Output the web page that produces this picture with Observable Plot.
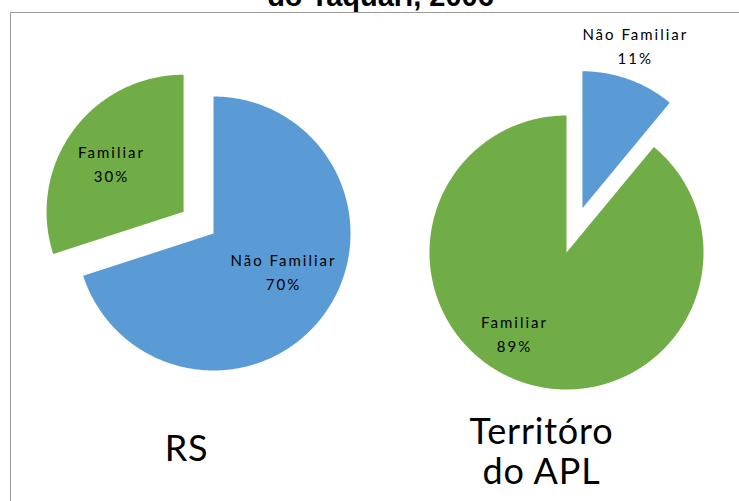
<!DOCTYPE html>
<html><head><meta charset="utf-8">
<script src="https://cdn.jsdelivr.net/npm/d3@7"></script>
<script src="https://cdn.jsdelivr.net/npm/@observablehq/plot@0.6"></script>
<style>body{margin:0;background:#fff}</style>
</head><body><div id="chart"></div>
<script>
// ---- data ----
const categories = ["Não Familiar", "Familiar"];
const regions = ["RS", "Territóro\ndo APL"];
const rsValues = [70, 30];
const aplValues = [11, 89];
const titleText = "do Taquari, 2006";

// ---- layout (positions / sizes) ----
const W = 739, H = 501;
const layout = [
  {cx: 213, cy: 233, r: 137, explode: [0, 37],
   label: [{rf: 0.59, da: -6}, {rf: 0.62, da: -4}], title: {x: 186, y: 448}},
  {cx: 566, cy: 252, r: 137, explode: [47, 0],
   label: [{rf: 1.23, da: -1.5}, {rf: 0.72, da: 12}], title: {x: 541, y: 451}}
];
const colors = ["#5B9BD5", "#70AD47"];

const pies = [
  {name: regions[0], values: rsValues},
  {name: regions[1], values: aplValues}
];

const slicePts = [], labels = [], titles = [];
const rad = Math.PI / 180;
pies.forEach((p, pi) => {
  const L = layout[pi];
  const total = d3.sum(p.values);
  let a = 0;
  p.values.forEach((v, si) => {
    const a0 = a, a1 = a + v / total * 360; a = a1;
    const mid = (a0 + a1) / 2 * rad;
    const ox = L.cx + L.explode[si] * Math.sin(mid);
    const oy = L.cy - L.explode[si] * Math.cos(mid);
    const id = pi + "-" + si, cat = categories[si];
    slicePts.push({id, cat, x: ox, y: oy});
    const n = Math.ceil(a1 - a0) * 2;
    for (let k = 0; k <= n; k++) {
      const t = (a0 + (a1 - a0) * k / n) * rad;
      slicePts.push({id, cat, x: ox + L.r * Math.sin(t), y: oy - L.r * Math.cos(t)});
    }
    const la = mid + L.label[si].da * rad;
    const lr = L.label[si].rf * L.r;
    labels.push({x: ox + lr * Math.sin(la), y: oy - lr * Math.cos(la),
                 text: `${cat}\n${Math.round(v / total * 100)}%`});
  });
  titles.push({x: L.title.x, y: L.title.y, text: p.name});
});

const chart = Plot.plot({
  width: W, height: H, margin: 0,
  x: {domain: [0, W], axis: null},
  y: {domain: [0, H], reverse: true, axis: null},
  color: {domain: categories, range: colors},
  style: {fontFamily: "Lato", background: "#fff", color: "#000"},
  marks: [
    Plot.frame({insetLeft: 10, insetTop: 12, insetRight: -5, insetBottom: -5,
                stroke: "#333", strokeDasharray: "1,1", strokeWidth: 1}),
    Plot.line(slicePts, {x: "x", y: "y", z: "id", fill: "cat", stroke: "none", curve: "linear-closed"}),
    Plot.text(labels, {x: "x", y: "y", text: "text", fontSize: 15, lineHeight: 1.6, dy: -4, fill: "#000"}),
    Plot.text(titles, {x: "x", y: "y", text: "text", fontSize: 36, lineHeight: 1.1, fill: "#000"}),
    Plot.text([titleText], {x: () => 380, y: () => -3.5, text: d => d, fontSize: 29,
                            fontWeight: "bold", fontFamily: "Liberation Sans", fill: "#000"})
  ]
});
d3.select(chart).selectAll("text").each(function () {
  const t = this.textContent;
  if (t.includes("%")) d3.select(this).style("letter-spacing", "2px");
  else if (t !== titleText) d3.select(this).style("letter-spacing", "0.8px");
});
document.getElementById("chart").appendChild(chart);
</script>
</body></html>
